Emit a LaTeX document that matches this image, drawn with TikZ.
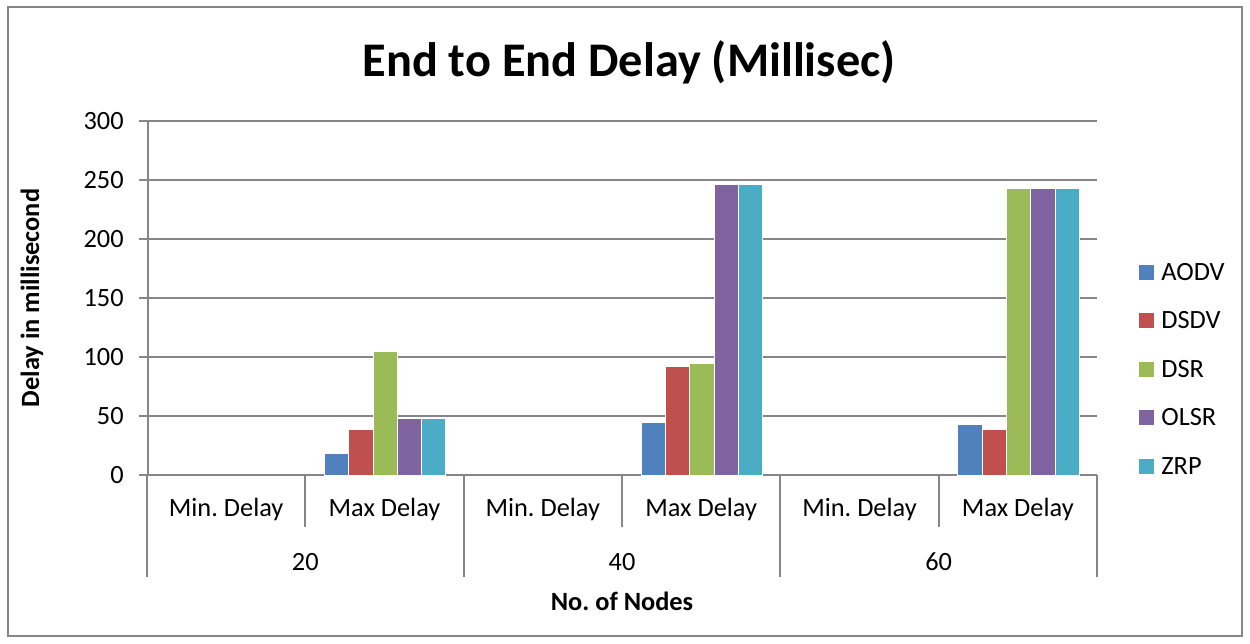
\documentclass[tikz,border=0pt]{standalone}
\usepackage{fontspec}
\setmainfont{Carlito}
\frenchspacing
\definecolor{aodvc}{HTML}{4F81BD}
\definecolor{dsdvc}{HTML}{C0504D}
\definecolor{dsrc}{HTML}{9BBB59}
\definecolor{olsrc}{HTML}{8064A2}
\definecolor{zrpc}{HTML}{4BACC6}
\definecolor{gridgray}{HTML}{868686}
\begin{document}
\begin{tikzpicture}[x=0.02cm,y=-0.02cm,
    gridline/.style={draw=gridgray, line width=1.1pt},
    ticklabel/.style={font=\fontsize{15}{18}\selectfont, inner sep=0pt},
    catlabel/.style={font=\fontsize{15}{18}\selectfont, inner sep=0pt},
    axislabel/.style={font=\bfseries\fontsize{15}{18}\selectfont, inner sep=0pt},
    bar/.style={draw=white, line width=0.4pt},
    legendbox/.style={minimum size=15*0.02cm, inner sep=0pt}]
    \useasboundingbox (0,0) rectangle (1250,643);
    % zero line at y = 475 px, 1.18 px per millisecond
    \def\yz{475}
    \def\ys{1.18}
    \def\cw{158.33}
    \def\bw{24.3}

    % Chart frame
    \draw[gridgray, line width=1.1pt] (8,7) rectangle (1242,636);

    % Title
    \node[font=\bfseries\fontsize{27.5}{33}\selectfont] (title) at (629,62) {End to End Delay (Millisec)};

    % Gridlines and y tick labels
    \foreach \v in {0,50,...,300}{
        \draw[gridline] (139,\yz-\v*\ys) -- (1097,\yz-\v*\ys);
        \node[ticklabel, anchor=east] (tick\v) at (124,\yz-\v*\ys) {\v};
    }
    \draw[gridline] (148,121) -- (148,\yz);

    % Bars: group / AODV / DSDV / DSR / OLSR / ZRP
    \foreach \g/\a/\b/\c/\d/\e in {0/18/39/105/48/48, 1/45/92/95/246/246, 2/43/39/243/243/243}{
        \foreach \v/\col [count=\i] in {\a/aodvc, \b/dsdvc, \c/dsrc, \d/olsrc, \e/zrpc}{
            \filldraw[bar, fill=\col] (147+\cw+2*\g*\cw+19+\i*\bw-\bw,\yz) rectangle ++(\bw,-\v*\ys);
        }
    }

    % Category axis: dividers
    \foreach \k in {0,2,4,6}{
        \draw[gridline] (147+\k*\cw,\yz) -- (147+\k*\cw,577);
    }
    \foreach \k in {1,3,5}{
        \draw[gridline] (147+\k*\cw,\yz) -- (147+\k*\cw,527);
    }

    % Category labels
    \foreach \g/\n in {0/20, 1/40, 2/60}{
        \node[catlabel] (min\n) at (147+2*\g*\cw+0.5*\cw,509) {Min. Delay};
        \node[catlabel] (max\n) at (147+2*\g*\cw+1.5*\cw,509) {Max Delay};
        \node[catlabel] (nodes\n) at (147+2*\g*\cw+\cw,562) {\n};
    }

    % Axis titles
    \node[axislabel] (xtitle) at (622,601) {No. of Nodes};
    \node[axislabel, rotate=90] (ytitle) at (32,298) {Delay in millisecond};

    % Legend
    \foreach \name/\col [count=\i from 0] in {AODV/aodvc, DSDV/dsdvc, DSR/dsrc, OLSR/olsrc, ZRP/zrpc}{
        \node[legendbox, fill=\col] (key\name) at (1146.5,272+\i*48.5) {};
        \node[catlabel, anchor=west] (lab\name) at (1161,272+\i*48.5) {\name};
    }
\end{tikzpicture}
\end{document}
